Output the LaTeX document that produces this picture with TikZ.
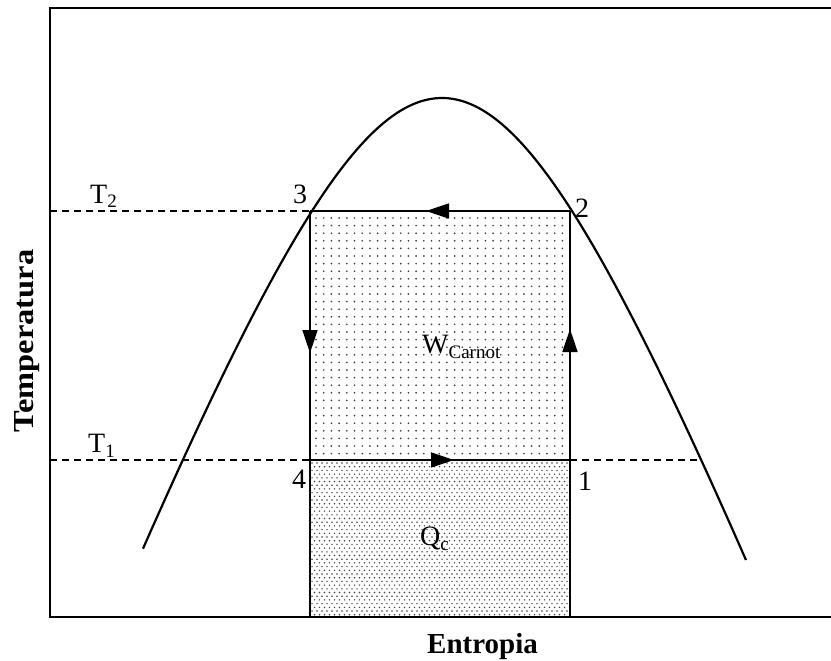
\documentclass[tikz,border=0pt]{standalone}
\usepackage{fontspec}
\usepackage{graphicx}
\setmainfont{Liberation Serif}
\usetikzlibrary{arrows.meta,decorations.markings}
\definecolor{dotcol}{gray}{0.25}
\newcommand\lowsub[1]{\raisebox{-5pt}{\fontsize{19}{19}\selectfont #1}}
\begin{document}
\begin{tikzpicture}[x=1pt,y=-1pt,
  lbl/.style={inner sep=0pt, font=\fontsize{28}{30}\selectfont},
  axislbl/.style={inner sep=0pt, font=\fontsize{29}{31}\selectfont\bfseries},
  axisline/.style={line width=1.8pt},
  curveline/.style={line width=2.2pt},
  edgeline/.style={line width=1.6pt},
  dashline/.style={line width=1.5pt, dash pattern=on 7pt off 5pt},
  midarrow/.style={postaction={decorate},decoration={markings,
    mark=at position #1 with {\arrow{Triangle[length=23pt,width=15pt]}}}}
]
\useasboundingbox (0,0) rectangle (831,661);

% frame
\coordinate (tr) at (831,8);
\coordinate (tl) at (50,8);
\coordinate (bl) at (50,617);
\coordinate (br) at (831,617);

% cycle corners
\coordinate (c1) at (570,460);
\coordinate (c2) at (570,211);
\coordinate (c3) at (310,211);
\coordinate (c4) at (310,460);
\coordinate (b4) at (310,617);
\coordinate (b1) at (570,617);
\coordinate (t2l) at (50,211);
\coordinate (t1l) at (50,460);
\coordinate (t1r) at (700,460);

% dotted fills
\begin{scope}
  \clip (c3) rectangle (c1);
  \fill[dotcol] \foreach \i in {0,...,34} { \foreach \j in {0,...,33}
     { ({316+\i*7.7},{218+\j*7.6}) circle (0.95) } };
\end{scope}
\begin{scope}
  \clip (c4) rectangle (b1);
  \fill[dotcol] \foreach \j in {0,...,42} { \foreach \i in {0,...,53}
     { ({312+\i*5+mod(\j,2)*2.5},{463+\j*3.7}) circle (0.8) } };
\end{scope}

% dashed isotherms
\draw[dashline] (t2l) -- (c3);
\draw[dashline] (t1l) -- (c4);
\draw[dashline] (c1) -- (t1r);

% frame lines
\draw[axisline] (tr) -- (tl) -- (bl) -- (br);

% vertical edges below T1
\draw[edgeline] (c4) -- (b4);
\draw[edgeline] (c1) -- (b1);

% cycle edges
\draw[edgeline, midarrow=131pt] (c1) -- (c2);
\draw[edgeline, midarrow=144pt] (c2) -- (c3);
\draw[edgeline, midarrow=142pt] (c3) -- (c4);
\draw[edgeline, midarrow=144pt] (c4) -- (c1);

% saturation dome
\draw[curveline] plot[domain=-299:304, samples=150, smooth]
  ({442+\x},{98+460*(sqrt(1+(\x/175)^2)-1)});

% labels
\node[lbl, anchor=base west] (lT2) at (90,203) {T\lowsub{2}};
\node[lbl, anchor=base west] (lT1) at (88,452) {T\lowsub{1}};
\node[lbl, anchor=base west] (l3) at (293,203) {3};
\node[lbl, anchor=base west] (l2) at (575,217) {2};
\node[lbl, anchor=base west] (l4) at (292,488) {4};
\node[lbl, anchor=base west] (l1) at (578,490) {1};
\node[lbl, anchor=base west] (lW) at (422,353) {W\lowsub{Carnot}};
\node[lbl, anchor=base west] (lQ) at (420,545) {Q\lowsub{c}};
\node[axislbl, anchor=base west] (lx) at (427,653) {Entropia};
\node[axislbl, anchor=base, rotate=90] (ly) at (33,341) {\scalebox{1.12}[1]{Temperatura}};
\end{tikzpicture}
\end{document}
